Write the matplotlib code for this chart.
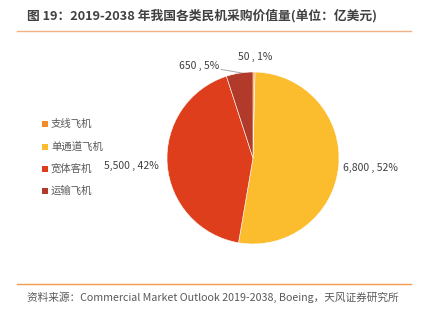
import matplotlib.pyplot as plt
from matplotlib.lines import Line2D
from matplotlib.patches import Rectangle

plt.rcParams['font.family'] = ['Noto Sans CJK SC', 'DejaVu Sans']

categories = ['支线飞机', '单通道飞机', '宽体客机', '运输飞机']
values = [50, 6800, 5500, 650]
pcts = [1, 52, 42, 5]
colors = ['#F28C28', '#FBBC2D', '#DF3E1C', '#B23A2B']

W, H = 422, 322
fig = plt.figure(figsize=(W / 100, H / 100), dpi=100)

# 饼图位置（像素）
cx, cy, r = 253, 158, 86
ax = fig.add_axes([(cx - r) / W, 1 - (cy + r) / H, 2 * r / W, 2 * r / H])
wedges, _ = ax.pie(values, colors=colors, startangle=90, counterclock=False,
                   wedgeprops=dict(edgecolor='white', linewidth=0.4))
ax.set_xlim(-1, 1)
ax.set_ylim(-1, 1)
ax.set_aspect('equal')
ax.axis('off')

# 数据标签
lab_pos = [(0.03, 1.17), (1.36, -0.12), (-1.42, -0.09), (-0.63, 1.07)]
for v, p, (x, y) in zip(values, pcts, lab_pos):
    ax.text(x, y, '{:,} , {}%'.format(v, p), ha='center', va='center',
            fontsize=7.5, color='#404040', clip_on=False)
ax.plot([-0.37, -0.14], [1.03, 0.99], color='#A6A6A6', lw=0.7, clip_on=False)

# 图例
leg_y = [124, 147, 169, 191]
for c, name, y in zip(colors, categories, leg_y):
    fig.add_artist(Rectangle((42 / W, 1 - (y + 3) / H), 6 / W, 6 / H,
                             facecolor=c, edgecolor='none', transform=fig.transFigure))
    fig.text(51 / W, 1 - y / H, name, color='#595959', fontsize=7.5, va='center', ha='left')

# 标题与来源
fig.text(27 / W, 1 - 16 / H, '图 19：2019-2038 年我国各类民机采购价值量(单位：亿美元)',
         fontsize=9.2, fontweight='bold', color='#404040', va='center', ha='left')
fig.add_artist(Line2D([17 / W, 411 / W], [1 - 31 / H, 1 - 31 / H], color='#F4B183', lw=1))
fig.add_artist(Line2D([17 / W, 411 / W], [1 - 284 / H, 1 - 284 / H], color='#F29B4B', lw=1))
fig.text(27 / W, 1 - 297 / H, '资料来源：Commercial Market Outlook 2019-2038, Boeing，天风证券研究所',
         fontsize=7.7, color='#595959', va='center', ha='left')

plt.savefig('out.png', dpi=100)
